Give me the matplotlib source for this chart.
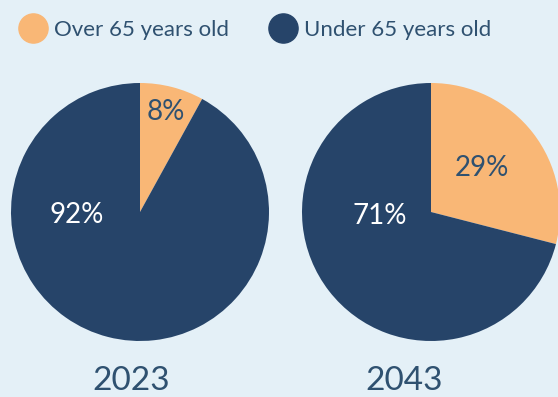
import matplotlib.pyplot as plt
from matplotlib.lines import Line2D
import numpy as np

plt.rcParams['font.family'] = ['Lato', 'DejaVu Sans']

years = ['2023', '2043']
groups = ['Over 65 years old', 'Under 65 years old']
over_65 = [8, 29]
under_65 = [92, 71]

bg = '#e4f0f7'
orange = '#f9b776'
navy = '#264469'
text_col = '#2f5170'

fig = plt.figure(figsize=(5.58, 3.97), dpi=100, facecolor=bg)
ax = fig.add_axes([0, 0, 1, 1])
ax.set_facecolor(bg)

# pie layout in pixel units (y measured from bottom)
centers = [(140, 185), (431, 185)]
radius = 129
year_x = [131, 404]
# where the percent labels sit: (fraction of radius, angle in degrees)
over_pos = [(0.8, 75.5), (0.52, 40.5)]
under_pos = [(0.49, 183), (0.4, 184)]

for i in range(len(years)):
    cx, cy = centers[i]
    ax.pie([over_65[i], under_65[i]], colors=[orange, navy], startangle=90,
           counterclock=False, center=(cx, cy), radius=radius,
           wedgeprops=dict(linewidth=0))
    r, a = over_pos[i]
    ax.text(cx + r * radius * np.cos(np.radians(a)), cy + r * radius * np.sin(np.radians(a)),
            f'{over_65[i]}%', ha='center', va='center', fontsize=20, color=text_col)
    r, a = under_pos[i]
    ax.text(cx + r * radius * np.cos(np.radians(a)), cy + r * radius * np.sin(np.radians(a)),
            f'{under_65[i]}%', ha='center', va='center', fontsize=20, color='white')
    ax.text(year_x[i], 1, years[i], ha='center', va='bottom', fontsize=24, color=text_col)

ax.set_xlim(0, 558)
ax.set_ylim(0, 397)
ax.set_aspect('auto')
ax.axis('off')

handles = [Line2D([], [], marker='o', linestyle='', markersize=21, color=c) for c in (orange, navy)]
fig.legend(handles, groups, loc='upper left', bbox_to_anchor=(0.0, 1.0), ncol=2, frameon=False,
           fontsize=16, labelcolor=text_col, handletextpad=0.35, columnspacing=1.8,
           borderaxespad=0.5, handlelength=1.2)

fig.savefig('out.png', dpi=100, facecolor=bg)
